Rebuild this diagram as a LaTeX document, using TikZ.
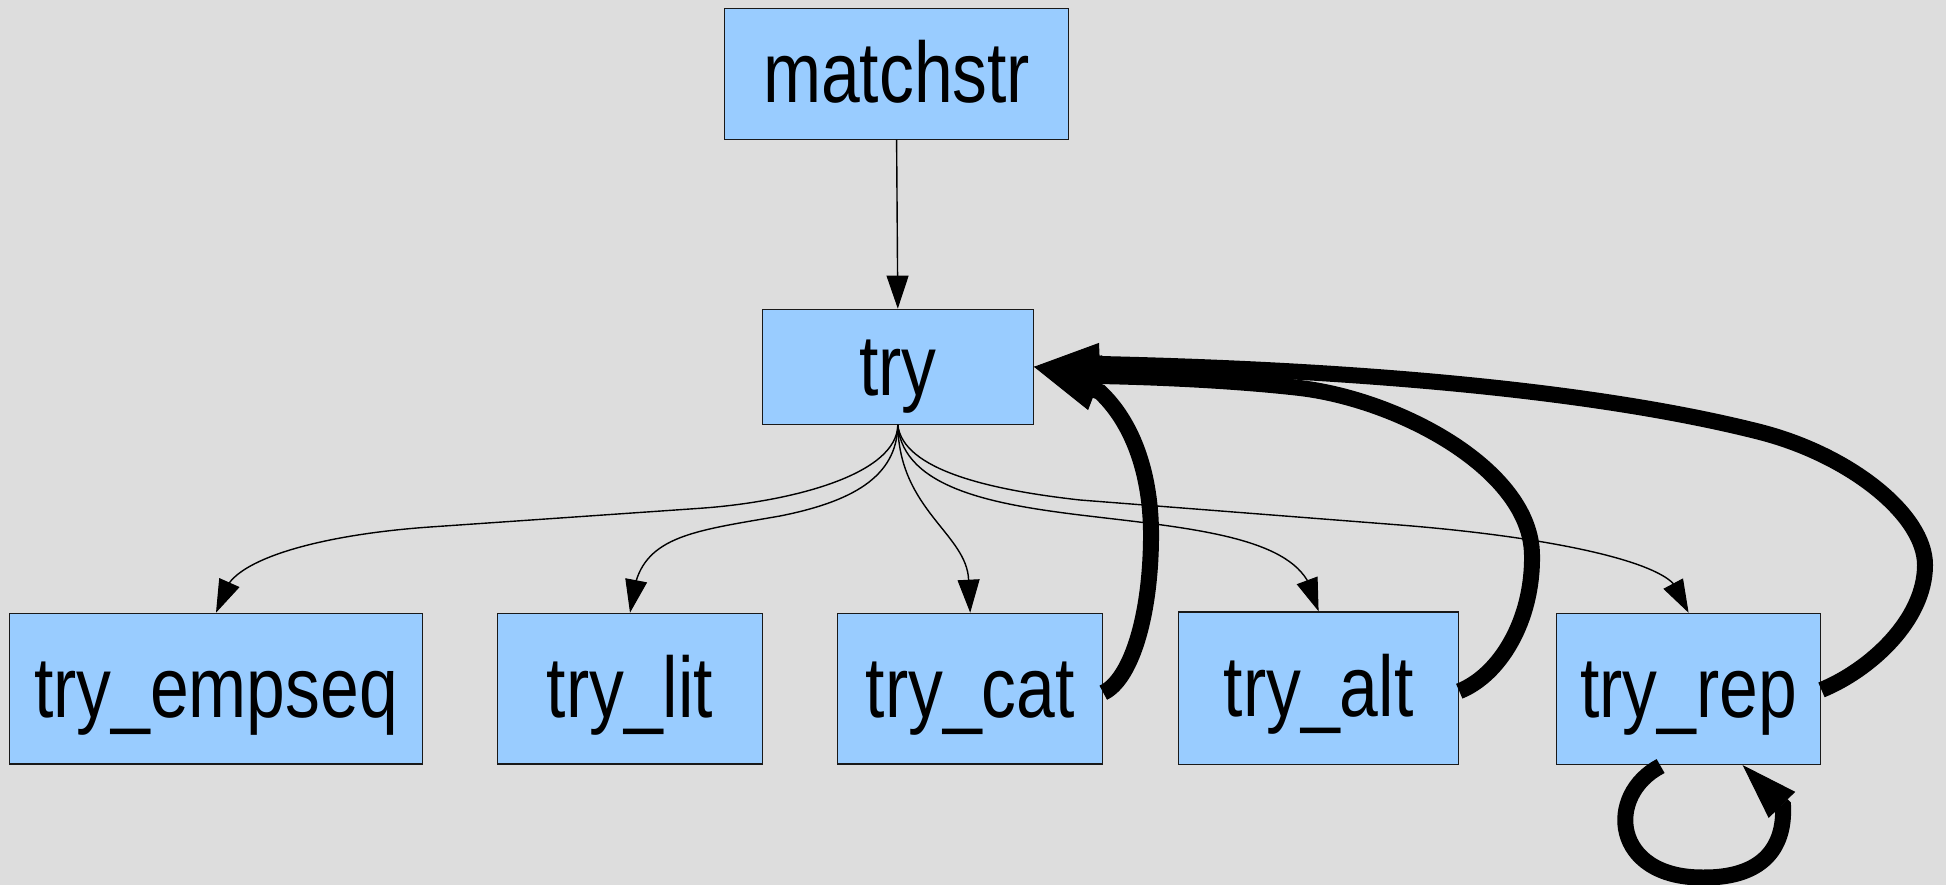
\documentclass[tikz,border=0pt]{standalone}
\usepackage{fontspec}
\setmainfont{Liberation Sans}[FakeStretch=0.81]
\usetikzlibrary{arrows.meta}
\definecolor{boxblue}{RGB}{153,204,255}
\definecolor{bggray}{RGB}{221,221,221}
\begin{document}
\begin{tikzpicture}[x=1pt,y=-1pt,
  box/.style={draw=black!90, line width=1.3pt, fill=boxblue, inner sep=0pt,
    text height=80pt, text depth=22.8pt, font=\fontsize{86pt}{100pt}\selectfont},
  thinedge/.style={line width=1.4pt, -{Triangle[length=33pt,width=22pt,line width=1pt]}},
  thickedge/.style={line width=16pt, -{Triangle[length=66pt,width=42pt,line width=1pt]}},
  loopedge/.style={line width=16pt, -{Triangle[length=56pt,width=37pt,line width=1pt]}}]
\fill[bggray] (0,0) rectangle (1946,885);
\useasboundingbox (0,0) rectangle (1946,885);

\node[box, minimum width=344.2pt, minimum height=130.6pt] (matchstr) at (896.6,74) {matchstr};
\node[box, minimum width=271pt, minimum height=115pt] (try) at (897.8,366.8) {try};
\node[box, minimum width=412.5pt, minimum height=150.7pt] (empseq) at (216,688.7) {try\_empseq};
\node[box, minimum width=264.4pt, minimum height=150.7pt] (lit) at (630,688.7) {try\_lit};
\node[box, minimum width=264.8pt, minimum height=150.7pt] (cat) at (970.2,688.7) {try\_cat};
\node[box, minimum width=280pt, minimum height=152.5pt] (alt) at (1318.6,688.2) {try\_alt};
\node[box, minimum width=264.4pt, minimum height=151pt] (rep) at (1688.6,688.9) {try\_rep};

% matchstr -> try
\draw[thinedge] (matchstr.south) -- (try.north);

% try -> children
\draw[thinedge] (try.south) .. controls (897,475) and (790,502) .. (700,508.3)
  -- (430,527) .. controls (330,534) and (250,555) .. (229.2,583) -- (empseq.north);
\draw[thinedge] (try.south) .. controls (897,478) and (850,502) .. (780,516)
  .. controls (700,530) and (650,535) .. (636,581.3) -- (lit.north);
\draw[thinedge] (try.south) .. controls (899,510) and (967,534) .. (968.6,580) -- (cat.north);
\draw[thinedge] (try.south) .. controls (903,490) and (1000,505) .. (1080,515)
  .. controls (1180,527) and (1280,535) .. (1307,580) -- (alt.north);
\draw[thinedge] (try.south) .. controls (903,470) and (990,490) .. (1080,500)
  -- (1400,525) .. controls (1550,537) and (1650,560) .. (1673,583.3) -- (rep.north);

% back edges to try
\draw[thickedge] ([yshift=-4pt]cat.east) .. controls (1130,680) and (1150,620) .. (1151,540)
  .. controls (1152,470) and (1130,420) .. (1100,392) -- (try.east);
\draw[thickedge] ([yshift=-3pt]alt.east) .. controls (1500,675) and (1533,620) .. (1532,555)
  .. controls (1531,470) and (1400,400) .. (1300,388)
  .. controls (1230,380) and (1150,377) .. (1098,376) -- (try.east);
\draw[thickedge] ([yshift=-1pt]rep.east) .. controls (1870,670) and (1925,620) .. (1925,565)
  .. controls (1925,515) and (1850,455) .. (1760,432)
  .. controls (1650,404) and (1450,372) .. (1100,364) -- (try.east);

% self loop on try_rep
\draw[loopedge] ([xshift=-28pt,yshift=-1pt]rep.south) .. controls (1605,795) and (1612,878) .. (1703,877.5)
  .. controls (1760,878) and (1785,850) .. (1783,806) -- ([xshift=54pt]rep.south);
\end{tikzpicture}
\end{document}
